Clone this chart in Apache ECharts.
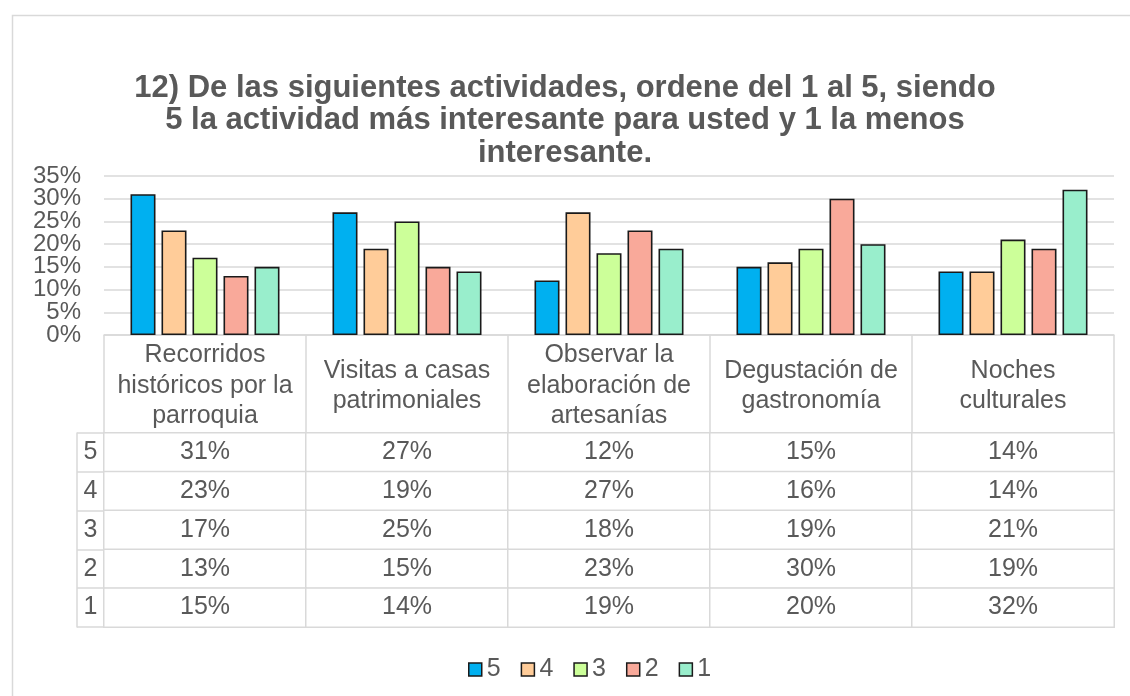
<!DOCTYPE html>
<html>
<head>
<meta charset="utf-8">
<script src="https://cdn.jsdelivr.net/npm/echarts@6/dist/echarts.min.js"></script>
<style>
  html, body { margin: 0; padding: 0; background: #ffffff; }
  #chart { width: 1130px; height: 696px; }
</style>
</head>
<body>
<div id="chart"></div>
<script>
// Activities (header labels of the data table, wrapped onto lines)
const categories = [
  'Recorridos\nhistóricos por la\nparroquia',
  'Visitas a casas\npatrimoniales',
  'Observar la\nelaboración de\nartesanías',
  'Degustación de\ngastronomía',
  'Noches\nculturales'
];

// Rating levels (5 = most interesting, 1 = least)
const seriesNames = ['5', '4', '3', '2', '1'];

// Percentage of answers per rating, one value per activity
const rating5 = [31, 27, 12, 15, 14];
const rating4 = [23, 19, 27, 16, 14];
const rating3 = [17, 25, 18, 19, 21];
const rating2 = [13, 15, 23, 30, 19];
const rating1 = [15, 14, 19, 20, 32];

const yTicks = { min: 0, max: 35, step: 5 };

const seriesValues = [rating5, rating4, rating3, rating2, rating1];
const colors = ['#00B0F0', '#FFCC99', '#CCFF99', '#F9A99A', '#99EECC'];

const FONT = '"Liberation Sans", Arial, sans-serif';
const TEXT = '#595959';
const LINE = '#D9D9D9';
const FS = 25;

// Bars
const barSeries = seriesNames.map((name, i) => ({
  name: name,
  type: 'bar',
  xAxisIndex: 0,
  yAxisIndex: 0,
  barWidth: 25,
  barGap: '24%',
  data: seriesValues[i],
  itemStyle: { color: colors[i], borderColor: '#1a1a1a', borderWidth: 1.6 },
  emphasis: { disabled: true }
}));

// Data table cells: [activity index, row index, value]
const tableData = [];
seriesValues.forEach((vals, r) => {
  vals.forEach((v, c) => tableData.push([c, r, v]));
});

// The tick labels sit closer together than their font height, so they are
// split over two overlaid value axes (even / odd steps) to keep every one visible.
function percentAxis(parity, withGrid) {
  return {
    type: 'value',
    gridIndex: 0,
    position: 'left',
    offset: 0,
    min: yTicks.min,
    max: yTicks.max,
    interval: yTicks.step,
    axisLine: { show: false },
    axisTick: { show: false },
    splitLine: { show: withGrid, lineStyle: { color: LINE, width: 1.5 } },
    axisLabel: {
      formatter: v => (Math.round(v / yTicks.step) % 2 === parity ? v + '%' : ''),
      margin: 23,
      showMinLabel: true,
      showMaxLabel: true,
      fontFamily: FONT,
      fontSize: 24,
      color: TEXT
    }
  };
}

const option = {
  backgroundColor: '#ffffff',
  animation: false,
  textStyle: { fontFamily: FONT },
  title: {
    text: '12) De las siguientes actividades, ordene del 1 al 5, siendo\n5 la actividad más interesante para usted y 1 la menos\ninteresante.',
    left: 'center',
    top: 67,
    textStyle: {
      fontFamily: FONT,
      fontSize: 31,
      fontWeight: 'bold',
      color: TEXT,
      lineHeight: 32.5
    }
  },
  legend: {
    data: seriesNames,
    top: 652,
    left: 463,
    icon: 'rect',
    itemWidth: 13,
    itemHeight: 13,
    itemGap: 20,
    textStyle: { fontFamily: FONT, fontSize: FS, color: TEXT },
    itemStyle: { borderColor: '#1a1a1a', borderWidth: 1.5 }
  },
  grid: [
    { left: 104, right: 16, top: 176, height: 159 },
    { left: 104, right: 16, top: 433, height: 194 }
  ],
  xAxis: [
    {
      type: 'category',
      gridIndex: 0,
      data: categories,
      axisLine: { show: true, lineStyle: { color: LINE, width: 1.5 } },
      axisTick: { show: true, length: 98, lineStyle: { color: LINE, width: 1.5 } },
      axisLabel: {
        interval: 0,
        margin: 51,
        verticalAlign: 'middle',
        fontFamily: FONT,
        fontSize: FS,
        lineHeight: 30.5,
        color: TEXT,
        align: 'center'
      }
    },
    {
      type: 'category',
      gridIndex: 1,
      data: categories,
      axisLine: { show: false },
      axisTick: { show: false },
      axisLabel: { show: false }
    }
  ],
  yAxis: [
    percentAxis(0, true),
    {
      type: 'category',
      gridIndex: 1,
      data: seriesNames,
      inverse: true,
      axisLine: { show: true, lineStyle: { color: LINE, width: 1.5 } },
      axisTick: { show: true, length: 27, lineStyle: { color: LINE, width: 1.5 } },
      axisLabel: {
        margin: 13.5,
        align: 'center',
        fontFamily: FONT,
        fontSize: FS,
        color: TEXT
      }
    },
    {
      // outer left edge of the row-label column
      type: 'category',
      gridIndex: 1,
      data: seriesNames,
      inverse: true,
      position: 'left',
      offset: 27,
      axisLine: { show: true, lineStyle: { color: LINE, width: 1.5 } },
      axisTick: { show: false },
      axisLabel: { show: false }
    },
    percentAxis(1, false)
  ],
  series: barSeries.concat([
    {
      name: 'table',
      type: 'heatmap',
      xAxisIndex: 1,
      yAxisIndex: 1,
      data: tableData,
      itemStyle: { color: '#ffffff', borderColor: LINE, borderWidth: 1.5 },
      label: {
        show: true,
        fontFamily: FONT,
        fontSize: FS,
        color: TEXT,
        formatter: p => p.value[2] + '%'
      },
      emphasis: { disabled: true }
    }
  ]),
  graphic: [
    {
      type: 'rect',
      left: 10,
      top: 13,
      shape: { width: 1300, height: 900 },
      style: { fill: null, stroke: LINE, lineWidth: 1.5 },
      silent: true,
      z: -10
    }
  ]
};

const chart = echarts.init(document.getElementById('chart'), null, { renderer: 'canvas' });
chart.setOption(option);
</script>
</body>
</html>
